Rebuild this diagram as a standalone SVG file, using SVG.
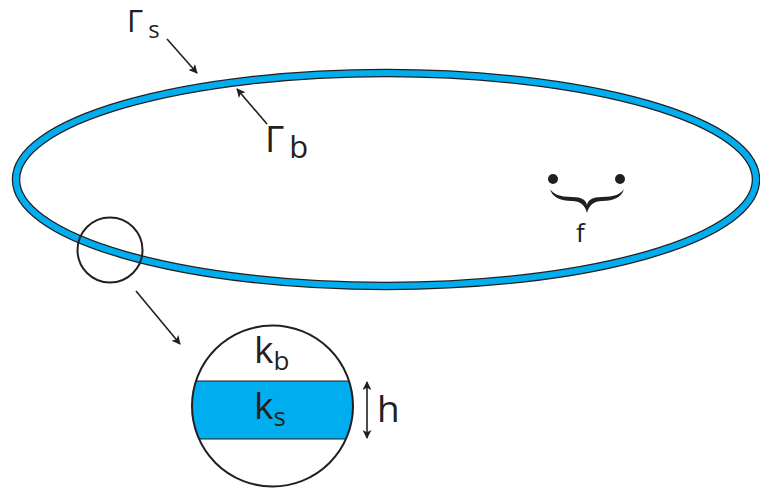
<svg xmlns="http://www.w3.org/2000/svg" width="760" height="494" viewBox="0 0 760 494">
<style>
.t{font-family:"Open Sans","Noto Sans","Liberation Sans",sans-serif;fill:#231f20}
.ln{stroke:#231f20;stroke-width:1.6;fill:none}
</style>
<defs>
<marker id="ah" viewBox="0 0 10 10" refX="9" refY="5" markerWidth="9" markerHeight="9" markerUnits="userSpaceOnUse" orient="auto-start-reverse">
<path d="M0,0 L10,5 L0,10 L2.5,5 Z" fill="#231f20"/>
</marker>
<clipPath id="cc"><circle cx="272.5" cy="406" r="80.5"/></clipPath>
</defs>
<rect width="760" height="494" fill="#fff"/>
<g id="domain">
<ellipse cx="386" cy="179.5" rx="370" ry="106.5" fill="none" stroke="#231f20" stroke-width="8.5"/>
<ellipse cx="386" cy="179.5" rx="370" ry="106.5" fill="none" stroke="#00aeef" stroke-width="6"/>
</g>
<g id="zoom-circle">
<circle cx="110" cy="250" r="32.5" fill="none" stroke="#231f20" stroke-width="2"/>
</g>
<g id="detail">
<rect x="190" y="381" width="170" height="58" fill="#00aeef" clip-path="url(#cc)"/>
<g clip-path="url(#cc)">
<line x1="190" y1="381" x2="360" y2="381" stroke="#231f20" stroke-width="1.2"/>
<line x1="190" y1="439" x2="360" y2="439" stroke="#231f20" stroke-width="1.2"/>
</g>
<circle cx="272.5" cy="406" r="80.5" fill="none" stroke="#231f20" stroke-width="2"/>
<text class="t" x="254" y="363" font-size="37">k<tspan font-size="26" dy="7">b</tspan></text>
<text class="t" x="254" y="419" font-size="37">k<tspan font-size="26" dy="7">s</tspan></text>
</g>
<g id="labels">
<text class="t" x="127" y="32" font-size="31">Γ<tspan font-size="24" dx="5" dy="6">s</tspan></text>
<text class="t" x="265" y="152" font-size="37">Γ<tspan font-size="31" dx="5" dy="6">b</tspan></text>
<text class="t" x="377" y="422" font-size="37">h</text>
</g>
<g id="f">
<circle cx="553" cy="179" r="5" fill="#231f20"/>
<circle cx="620" cy="179" r="5" fill="#231f20"/>
<path d="M550,189 C552,197 560,201 572,201 C580,201 585,205 587,213 C589,205 594,201 602,201 C614,201 622,197 624,189 C621,194 614,197 602,197 C592,197 588,200 587,205 C586,200 582,197 572,197 C560,197 553,194 550,189 Z" fill="#231f20"/>
<text class="t" x="576" y="242" font-size="26">f</text>
</g>
<g id="connectors">
<line class="ln" x1="167" y1="39" x2="197" y2="73" marker-end="url(#ah)"/>
<line class="ln" x1="267" y1="124" x2="237" y2="89" marker-end="url(#ah)"/>
<line class="ln" x1="136" y1="291" x2="180" y2="344" marker-end="url(#ah)"/>
<line class="ln" x1="367" y1="382" x2="367" y2="438" marker-start="url(#ah)" marker-end="url(#ah)"/>
</g>
</svg>
